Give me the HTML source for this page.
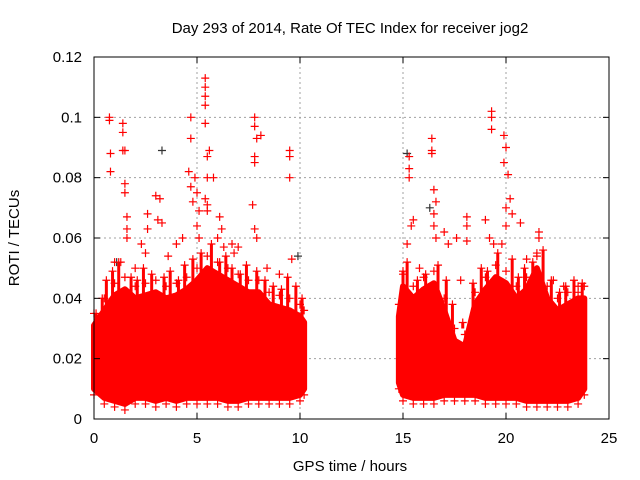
<!DOCTYPE html>
<html><head><meta charset="utf-8"><style>
html,body{margin:0;padding:0;background:#fff;}
svg{display:block;font-family:"Liberation Sans",sans-serif;}
</style></head><body>
<svg id="chart" width="640" height="480" viewBox="0 0 640 480">
<text x="350" y="33" font-size="15" text-anchor="middle">Day 293 of 2014, Rate Of TEC Index for receiver jog2</text>
<text x="350" y="471" font-size="15" text-anchor="middle">GPS time / hours</text>
<text transform="translate(19,238) rotate(-90)" font-size="15" text-anchor="middle">ROTI / TECUs</text>
<g id="grid"></g>
<g id="band"></g>
<g id="pts"></g>
<rect x="94" y="57" width="515" height="362" fill="none" stroke="#000" stroke-width="1"/>
<g id="axes"></g>
</svg>
<script>
const xTicks = [0, 5, 10, 15, 20, 25];
const yTicks = [0, 0.02, 0.04, 0.06, 0.08, 0.1, 0.12];
const yTickLabels = ["0", "0.02", "0.04", "0.06", "0.08", "0.1", "0.12"];
// dense band per segment: times, lower and upper ROTI
const seg1Times = [0, 0.5, 1, 1.5, 2, 2.5, 3, 3.5, 4, 4.5, 5, 5.5, 6, 6.5, 7, 7.5, 8, 8.5, 9, 9.5, 10, 10.2];
const seg1High = [0.031, 0.036, 0.041, 0.043, 0.040, 0.041, 0.042, 0.040, 0.041, 0.043, 0.046, 0.050, 0.048, 0.046, 0.044, 0.042, 0.042, 0.038, 0.037, 0.036, 0.034, 0.032];
const seg1Low = [0.010, 0.007, 0.006, 0.005, 0.007, 0.007, 0.006, 0.007, 0.006, 0.007, 0.007, 0.007, 0.007, 0.006, 0.006, 0.007, 0.007, 0.007, 0.007, 0.007, 0.008, 0.010];
const seg2Times = [14.8, 15, 15.5, 16, 16.5, 17, 17.5, 18, 18.5, 19, 19.5, 20, 20.5, 21, 21.5, 22, 22.5, 23, 23.5, 23.8];
const seg2High = [0.034, 0.044, 0.040, 0.043, 0.045, 0.036, 0.026, 0.024, 0.038, 0.043, 0.047, 0.045, 0.040, 0.043, 0.050, 0.040, 0.036, 0.038, 0.040, 0.040];
const seg2Low = [0.012, 0.008, 0.007, 0.007, 0.007, 0.008, 0.008, 0.008, 0.008, 0.007, 0.007, 0.007, 0.007, 0.006, 0.006, 0.006, 0.006, 0.006, 0.007, 0.010];
// upper fringe of scattered points above the dense band
const fringeTimes = [0.1,0.4,0.6,0.9,1.2,1.8,2.1,2.4,2.8,3.4,3.7,4.1,4.4,4.8,5.2,5.7,6.1,6.4,6.7,7.1,7.4,7.9,8.3,8.7,9.1,9.4,9.8,10.1,15.0,15.2,15.7,16.1,16.7,17.1,17.4,17.9,18.4,18.8,19.1,19.6,20.3,20.6,20.9,21.3,21.8,22.2,22.6,22.9,23.3,23.7];
const fringeValues = [0.035,0.040,0.046,0.049,0.052,0.047,0.046,0.050,0.048,0.047,0.049,0.046,0.051,0.053,0.055,0.058,0.052,0.054,0.050,0.048,0.051,0.049,0.046,0.044,0.043,0.047,0.044,0.040,0.049,0.052,0.046,0.048,0.051,0.046,0.038,0.032,0.045,0.050,0.049,0.055,0.053,0.047,0.050,0.052,0.056,0.046,0.042,0.044,0.046,0.045];
// outlier points
const outTimes = [0.75,0.75,0.8,0.8,1.4,1.4,1.4,1.5,1.5,1.5,1.6,1.6,1.6,3.0,3.2,2.6,2.6,3.1,3.3,2.3,4.7,4.7,4.6,4.7,4.8,5.0,5.1,5.0,5.1,4.9,5.4,5.4,5.4,5.4,5.4,5.6,5.5,5.5,5.8,5.4,5.5,5.5,6.1,6.2,6.0,6.3,7.8,7.8,7.9,8.1,7.8,7.8,7.7,7.8,7.9,9.5,9.5,9.5,9.6,4.3,4.0,1.3,1.0,2.5,7.0,6.7,15.3,15.3,15.3,15.5,15.4,15.2,16.4,16.4,16.4,16.5,16.6,16.5,16.5,16.6,17.0,17.2,17.6,18.1,18.1,18.1,19.3,19.3,19.3,19.0,19.2,19.4,19.9,20.0,19.9,20.1,20.2,20.0,20.3,20.0,19.8,20.7,21.6,21.6,21.5,22.8,23.5,2.0,3.6,6.8,8.4,9.0,15.8,17.8,21.0,22.3];
const outValues = [0.100,0.099,0.088,0.082,0.098,0.095,0.089,0.089,0.078,0.075,0.067,0.063,0.060,0.074,0.073,0.068,0.063,0.066,0.065,0.058,0.100,0.093,0.082,0.077,0.072,0.075,0.069,0.064,0.060,0.080,0.113,0.110,0.107,0.104,0.098,0.089,0.087,0.080,0.080,0.073,0.071,0.069,0.067,0.063,0.060,0.057,0.100,0.097,0.093,0.094,0.087,0.085,0.071,0.063,0.060,0.089,0.087,0.080,0.053,0.060,0.058,0.052,0.052,0.055,0.057,0.058,0.087,0.083,0.080,0.066,0.064,0.058,0.093,0.089,0.088,0.076,0.072,0.068,0.064,0.060,0.062,0.058,0.060,0.067,0.064,0.059,0.102,0.100,0.096,0.066,0.060,0.058,0.094,0.090,0.085,0.081,0.073,0.070,0.068,0.064,0.058,0.065,0.062,0.060,0.055,0.044,0.042,0.050,0.054,0.055,0.050,0.048,0.050,0.046,0.053,0.046];
const darkTimes = [3.3, 15.2, 16.3, 9.9, 1.1];
const darkValues = [0.089, 0.088, 0.070, 0.054, 0.052];

const X0=94, X1=609, Y0=419, Y1=57;
const xs = t => X0 + (t-0)/(25-0)*(X1-X0);
const ys = v => Y0 - v/0.12*(Y0-Y1);
const NS="http://www.w3.org/2000/svg";
function mk(tag, attrs, parent){const e=document.createElementNS(NS,tag);for(const k in attrs)e.setAttribute(k,attrs[k]);parent.appendChild(e);return e;}
const grid=document.getElementById('grid'), axes=document.getElementById('axes'), band=document.getElementById('band'), pts=document.getElementById('pts');

xTicks.forEach((t,i)=>{
  const x=xs(t);
  if(i>0&&i<xTicks.length-1){const g=mk('line',{x1:x,x2:x,y1:Y1,y2:Y0,stroke:'#a0a0a0','stroke-dasharray':'2,3'},grid);
  
  }
  mk('line',{x1:x,x2:x,y1:Y0,y2:Y0-6,stroke:'#000'},axes);
  mk('line',{x1:x,x2:x,y1:Y1,y2:Y1+6,stroke:'#000'},axes);
  const l=mk('text',{x:x,y:443,'font-size':15,'text-anchor':'middle'},axes);
  l.textContent=String(t);
  
  
});
yTicks.forEach((v,i)=>{
  const y=ys(v);
  if(i>0&&i<yTicks.length-1){const g=mk('line',{x1:X0,x2:X1,y1:y,y2:y,stroke:'#a0a0a0','stroke-dasharray':'2,3'},grid);
  
  }
  mk('line',{x1:X0,x2:X0+6,y1:y,y2:y,stroke:'#000'},axes);
  mk('line',{x1:X1,x2:X1-6,y1:y,y2:y,stroke:'#000'},axes);
  const l=mk('text',{x:82,y:y+5,'font-size':15,'text-anchor':'end'},axes);
  l.textContent=yTickLabels[i];
  
  
});

function cross(t,v,color,name){
  const x=xs(t), y=ys(v);
  const p=mk('path',{d:`M${x-4},${y}H${x+4}M${x},${y-4}V${y+4}`,stroke:color,'stroke-width':1.2,fill:'none'},pts);
  
  
}
function drawBand(times,high,low,name){
  let d='M'+times.map((t,i)=>xs(t)+','+ys(high[i])).join('L');
  for(let i=times.length-1;i>=0;i--) d+='L'+xs(times[i])+','+ys(low[i]);
  d+='Z';
  const p=mk('path',{d:d,fill:'#ff0000',stroke:'#ff0000','stroke-width':6,'stroke-linejoin':'round'},band);
  
  
  times.forEach((t,i)=>{cross(t,high[i]+0.004,'#ff0000','band-edge-point');cross(t,low[i]-0.002,'#ff0000','band-edge-point');});
}
drawBand(seg1Times,seg1High,seg1Low,'band-segment-1');
drawBand(seg2Times,seg2High,seg2Low,'band-segment-2');
fringeTimes.forEach((t,i)=>{
  const x=xs(t), y=ys(fringeValues[i]);
  const l=mk('line',{x1:x,x2:x,y1:y,y2:ys(0.03),stroke:'#ff0000','stroke-width':3},band);
  
  
  cross(t,fringeValues[i],'#ff0000','fringe-point');
});
darkTimes.forEach((t,i)=>cross(t,darkValues[i],'#333333','dark-point'));
outTimes.forEach((t,i)=>cross(t,outValues[i],'#ff0000','outlier-point'));
</script>
</body></html>
